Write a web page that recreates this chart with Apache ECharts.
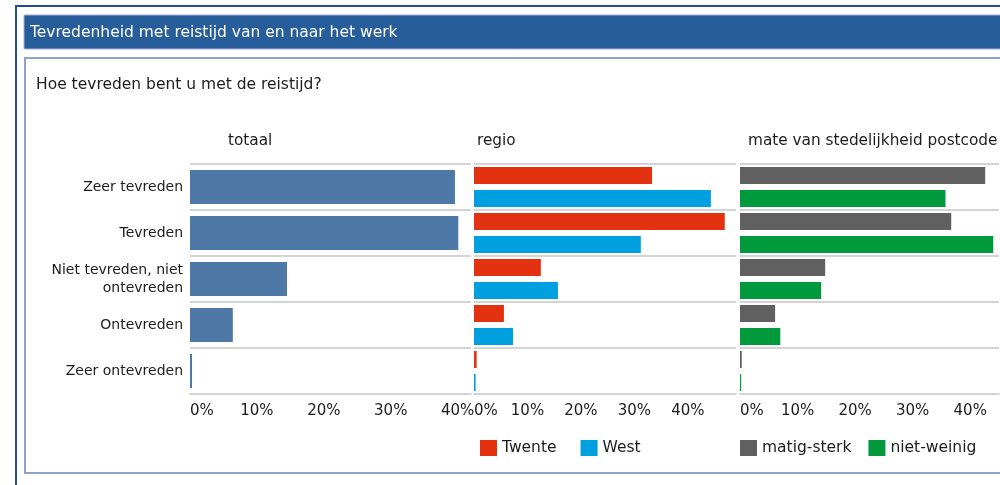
<!DOCTYPE html>
<html>
<head>
<meta charset="utf-8">
<title>Tevredenheid met reistijd</title>
<script src="https://cdn.jsdelivr.net/npm/echarts@6/dist/echarts.min.js"></script>
<style>
  body { margin: 0; background: #fff; }
  #main { width: 1000px; height: 485px; }
</style>
</head>
<body>
<div id="main"></div>
<script>
// antwoordcategorieen en percentages
var categories = ['Zeer tevreden', 'Tevreden', 'Niet tevreden, niet\nontevreden', 'Ontevreden', 'Zeer ontevreden'];
var totaal = [39.6, 40.1, 14.5, 6.4, 0.3];
var twente = [33.3, 46.9, 12.5, 5.6, 0.5];
var west = [44.3, 31.2, 15.7, 7.3, 0.3];
var matigSterk = [42.6, 36.7, 14.8, 6.1, 0.3];
var nietWeinig = [35.7, 44.0, 14.1, 7.0, 0.2];
var panelTitles = ['totaal', 'regio', 'mate van stedelijkheid postcode'];
var tickStep = 10;

var font = 'DejaVu Sans';
var txt = '#1c1c1c';

function xAxis(idx, max) {
    return {
        type: 'value', gridIndex: idx, min: 0, max: max, interval: tickStep,
        axisLine: { show: true, lineStyle: { color: '#d4d4d4', width: 2 } },
        axisTick: { show: false },
        splitLine: { show: false },
        axisLabel: {
            formatter: '{value}%', color: txt, fontFamily: font, fontSize: 15,
            margin: 10, showMaxLabel: false, alignMinLabel: 'left'
        }
    };
}
function yAxis(idx, labels) {
    return {
        type: 'category', gridIndex: idx, data: categories, inverse: true,
        axisLine: { show: false }, axisTick: { show: false },
        splitLine: { show: true, lineStyle: { color: '#d4d4d4', width: 2 } },
        axisLabel: {
            show: labels, color: txt, fontFamily: font, fontSize: 14,
            margin: 7, lineHeight: 18, align: 'right'
        }
    };
}
function titleStyle(color, size) {
    return { color: color, fontSize: size || 15.5, fontWeight: 'normal', fontFamily: font };
}

var myChart = echarts.init(document.getElementById('main'));
var option = {
    animation: false,
    textStyle: { fontFamily: font },
    title: [
        { text: 'Tevredenheid met reistijd van en naar het werk', left: 30, top: 25, padding: 0,
          textStyle: titleStyle('#fff') },
        { text: 'Hoe tevreden bent u met de reistijd?', left: 36, top: 77, padding: 0,
          textStyle: titleStyle(txt) },
        { text: panelTitles[0], left: 228, top: 134, padding: 0, textStyle: titleStyle(txt, 15.3) },
        { text: panelTitles[1], left: 477, top: 134, padding: 0, textStyle: titleStyle(txt, 15.3) },
        { text: panelTitles[2], left: 748, top: 134, padding: 0, textStyle: titleStyle(txt, 15.3) }
    ],
    graphic: [
        { type: 'rect', shape: { x: 16, y: 6, width: 1000, height: 500 },
          style: { fill: null, stroke: '#1f4f8e', lineWidth: 2 } },
        { type: 'rect', shape: { x: 24, y: 15, width: 990, height: 34 },
          style: { fill: '#285d9c', stroke: '#9db4d4', lineWidth: 1 }, z: -1 },
        { type: 'rect', shape: { x: 25, y: 58, width: 990, height: 415 },
          style: { fill: null, stroke: '#8aa5cc', lineWidth: 2 } }
    ],
    legend: [
        { data: ['Twente', 'West'], left: 475, top: 435, itemWidth: 17, itemHeight: 16, itemGap: 24,
          icon: 'rect', textStyle: { color: txt, fontSize: 15.5, fontFamily: font } },
        { data: ['matig-sterk', 'niet-weinig'], left: 735, top: 435, itemWidth: 17, itemHeight: 16, itemGap: 17,
          icon: 'rect', textStyle: { color: txt, fontSize: 15.5, fontFamily: font } }
    ],
    grid: [
        { left: 190, top: 164, width: 281, height: 230 },
        { left: 474, top: 164, width: 262, height: 230 },
        { left: 740, top: 164, width: 259, height: 230 }
    ],
    xAxis: [xAxis(0, 42), xAxis(1, 49), xAxis(2, 45)],
    yAxis: [yAxis(0, true), yAxis(1, false), yAxis(2, false)],
    series: [
        { name: 'totaal', type: 'bar', xAxisIndex: 0, yAxisIndex: 0, data: totaal,
          barWidth: 34, itemStyle: { color: '#4e79a7' } },
        { name: 'Twente', type: 'bar', xAxisIndex: 1, yAxisIndex: 1, data: twente,
          barWidth: 17, barGap: '35%', itemStyle: { color: '#e33212' } },
        { name: 'West', type: 'bar', xAxisIndex: 1, yAxisIndex: 1, data: west,
          barWidth: 17, barGap: '35%', itemStyle: { color: '#009fe0' } },
        { name: 'matig-sterk', type: 'bar', xAxisIndex: 2, yAxisIndex: 2, data: matigSterk,
          barWidth: 17, barGap: '35%', itemStyle: { color: '#606060' } },
        { name: 'niet-weinig', type: 'bar', xAxisIndex: 2, yAxisIndex: 2, data: nietWeinig,
          barWidth: 17, barGap: '35%', itemStyle: { color: '#009a3d' } }
    ]
};
myChart.setOption(option);
</script>
</body>
</html>
